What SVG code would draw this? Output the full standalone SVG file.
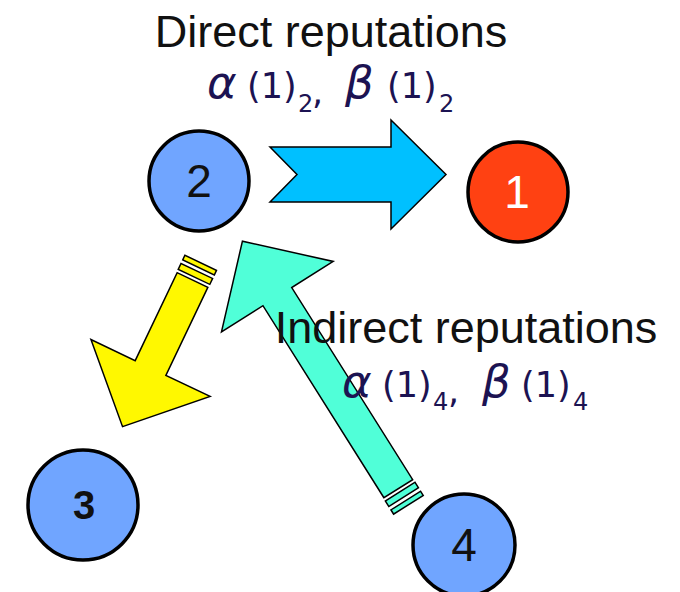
<svg xmlns="http://www.w3.org/2000/svg" width="680" height="592" viewBox="0 0 680 592">
<style>
.node{stroke:#000;stroke-width:3.5}
.arr{stroke:#000;stroke-width:1.5;stroke-linejoin:miter}
.title{font-family:"Liberation Sans",Arial,sans-serif;font-size:45px;fill:#111;text-anchor:middle}
.math{font-family:"DejaVu Sans","Noto Sans",sans-serif;font-size:35px;fill:#1c1352}
.gr{font-size:45px;font-style:oblique}
.sub{font-size:24px}
.num{font-family:"Liberation Sans",Arial,sans-serif;font-size:46px;text-anchor:middle}
</style>
<defs>
<g id="striped97">
<polygon class="arr" points="0,-17 97.5,-17 97.5,-66 162.5,0 97.5,66 97.5,17 0,17"/>
<rect class="arr" x="-10" y="-17.5" width="6.5" height="35"/>
<rect class="arr" x="-19" y="-17.5" width="5" height="35"/>
</g>
</defs>
<g id="connectors">
<polygon id="arrow-2-1" class="arr" fill="#00C0FF" points="270,147 391,147 391,120 446,174.5 391,229 391,202 270,202 297,174.5"/>
<g id="arrow-2-3" fill="#FFF800" transform="translate(192.5,280) rotate(115.5)">
<use href="#striped97"/>
</g>
<g id="arrow-4-2" fill="#50FFD8" transform="translate(398.3,488.7) rotate(-122.2)">
<polygon class="arr" points="0,-17 227,-17 227,-66 292.5,0 227,66 227,17 0,17"/>
<rect class="arr" x="-10" y="-17.5" width="6.5" height="35"/>
<rect class="arr" x="-19" y="-17.5" width="5" height="35"/>
</g>
</g>
<g id="node-2">
<circle class="node" cx="199" cy="181" r="50" fill="#70A5FF"/>
<text class="num" x="199" y="197" fill="#111">2</text>
</g>
<g id="node-1">
<circle class="node" cx="518" cy="192" r="50" fill="#FF4112"/>
<text class="num" x="517" y="208" fill="#fff">1</text>
</g>
<g id="node-3">
<circle class="node" cx="83" cy="505" r="55" fill="#70A5FF"/>
<text x="84" y="519" font-family="Liberation Sans,Arial,sans-serif" font-size="40" font-weight="bold" text-anchor="middle" fill="#111">3</text>
</g>
<g id="node-4">
<circle class="node" cx="464" cy="545" r="51" fill="#70A5FF"/>
<text class="num" x="464" y="561" fill="#111">4</text>
</g>
<g id="labels">
<text class="title" x="331" y="47">Direct reputations</text>
<text class="math"><tspan class="gr" x="207" y="98">α</tspan><tspan x="247" y="98">(1)</tspan><tspan class="sub" x="298" y="112">2</tspan><tspan x="312" y="104">,</tspan><tspan class="gr" x="345" y="98">β</tspan><tspan x="387" y="98">(1)</tspan><tspan class="sub" x="439" y="112">2</tspan></text>
<text class="title" x="466" y="343">Indirect reputations</text>
<text class="math"><tspan class="gr" x="342" y="397">α</tspan><tspan x="382" y="397">(1)</tspan><tspan class="sub" x="433" y="410">4</tspan><tspan x="448" y="403">,</tspan><tspan class="gr" x="482" y="397">β</tspan><tspan x="521" y="397">(1)</tspan><tspan class="sub" x="573" y="410">4</tspan></text>
</g>
</svg>
